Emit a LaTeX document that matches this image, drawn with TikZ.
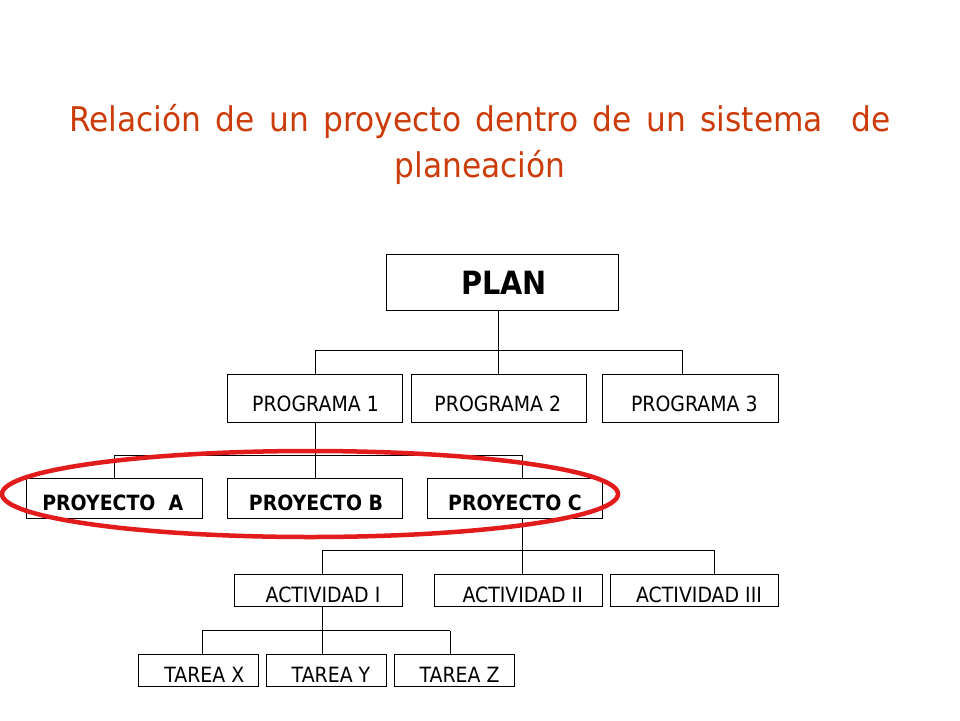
\documentclass[tikz,border=0pt]{standalone}
\usepackage{fontspec}
\setmainfont{DejaVu Sans}
\newfontfamily\titlefont[FakeStretch=0.92,WordSpace=1.46]{DejaVu Sans}
\newfontfamily\boxfont[FakeStretch=0.9]{DejaVu Sans}
\definecolor{titlecol}{RGB}{204,60,10}
\definecolor{ringred}{RGB}{226,28,28}
\begin{document}
\begin{tikzpicture}[x=1pt,y=-1pt,
  box/.style={draw=black,line width=0.8pt,inner sep=0pt,minimum height=#1},
  box/.default=32pt,
  txt/.style={inner sep=0pt,text depth=0pt,font=\boxfont\fontsize{21}{21}\selectfont},
  btxt/.style={inner sep=0pt,text depth=0pt,font=\boxfont\bfseries\fontsize{21}{21}\selectfont},
  ttl/.style={inner sep=0pt,anchor=base,text=titlecol,font=\titlefont\fontsize{34}{34}\selectfont},
  wire/.style={draw=black,line width=0.8pt}]
\useasboundingbox (0,0) rectangle (960,720);
\fill[white] (0,0) rectangle (960,720);
% title
\node[ttl] (t1) at (480,131) {Relación de un proyecto dentro de un sistema\ \ de};
\node[ttl] (t2) at (480,177) {planeación};
% boxes
\node[box=56pt,minimum width=232pt] (plan) at (502,282.3) {};
\node[box=48pt,minimum width=175pt] (p1) at (314.5,398) {};
\node[box=48pt,minimum width=175.7pt] (p2) at (498.8,398) {};
\node[box=48pt,minimum width=176pt] (p3) at (690.3,398) {};
\node[box=40pt,minimum width=175.3pt] (pa) at (114.3,498) {};
\node[box=40pt,minimum width=175pt] (pb) at (314.5,498) {};
\node[box=40pt,minimum width=175pt] (pc) at (514.5,498) {};
\node[box=32pt,minimum width=168.4pt] (a1) at (318.5,590.3) {};
\node[box=32pt,minimum width=168pt] (a2) at (518.3,590.3) {};
\node[box=32pt,minimum width=168pt] (a3) at (694.3,590.3) {};
\node[box=32pt,minimum width=120pt] (tx) at (198.3,670.4) {};
\node[box=32pt,minimum width=119.6pt] (ty) at (326.5,670.4) {};
\node[box=32pt,minimum width=119.6pt] (tz) at (454.5,670.4) {};
% texts
\node[btxt,font=\boxfont\bfseries\fontsize{32}{32}\selectfont] (plant) at ([xshift=2pt,yshift=-1pt]plan.center) {PLAN};
\node[txt] (p1t) at ([xshift=1pt,yshift=-5.8pt]p1.center) {PROGRAMA 1};
\node[txt] (p2t) at ([xshift=-1pt,yshift=-5.8pt]p2.center) {PROGRAMA 2};
\node[txt] (p3t) at ([xshift=4pt,yshift=-5.8pt]p3.center) {PROGRAMA 3};
\node[btxt] (pat) at ([xshift=-1.5pt,yshift=-5pt]pa.center) {PROYECTO\ \ A};
\node[btxt] (pbt) at ([xshift=1.5pt,yshift=-5pt]pb.center) {PROYECTO B};
\node[btxt] (pct) at ([xshift=0.5pt,yshift=-5pt]pc.center) {PROYECTO C};
\node[txt] (a1t) at ([xshift=4.5pt,yshift=-4.5pt]a1.center) {ACTIVIDAD I};
\node[txt] (a2t) at ([xshift=4.4pt,yshift=-4.5pt]a2.center) {ACTIVIDAD II};
\node[txt] (a3t) at ([xshift=4.7pt,yshift=-4.5pt]a3.center) {ACTIVIDAD III};
\node[txt] (txt) at ([xshift=6pt,yshift=-4.5pt]tx.center) {TAREA X};
\node[txt] (tyt) at ([xshift=4.5pt,yshift=-4.5pt]ty.center) {TAREA Y};
\node[txt] (tzt) at ([xshift=5pt,yshift=-4.5pt]tz.center) {TAREA Z};
% junction coordinates
\coordinate (j0) at (498,350);
\coordinate (j0l) at (315,350);
\coordinate (j0r) at (682.7,350);
\coordinate (j1) at (315,455);
\coordinate (j1l) at (114.7,455);
\coordinate (j1r) at (522.3,455);
\coordinate (j2) at (522.3,550.3);
\coordinate (j2l) at (322.7,550.3);
\coordinate (j2r) at (714.3,550.3);
\coordinate (j3) at (322.7,630.5);
\coordinate (j3l) at (202.3,630.5);
\coordinate (j3r) at (450.3,630.5);
% connectors
\draw[wire] (j0 |- plan.south) -- (j0);
\draw[wire] (j0l) -- (j0r);
\draw[wire] (j0l) -- (j0l |- p1.north);
\draw[wire] (j0) -- (j0 |- p2.north);
\draw[wire] (j0r) -- (j0r |- p3.north);
\draw[wire] (j1 |- p1.south) -- (j1);
\draw[wire] (j1l) -- (j1r);
\draw[wire] (j1l) -- (j1l |- pa.north);
\draw[wire] (j1) -- (j1 |- pb.north);
\draw[wire] (j1r) -- (j1r |- pc.north);
\draw[wire] (j2 |- pc.south) -- (j2);
\draw[wire] (j2l) -- (j2r);
\draw[wire] (j2l) -- (j2l |- a1.north);
\draw[wire] (j2) -- (j2 |- a2.north);
\draw[wire] (j2r) -- (j2r |- a3.north);
\draw[wire] (j3 |- a1.south) -- (j3);
\draw[wire] (j3l) -- (j3r);
\draw[wire] (j3l) -- (j3l |- tx.north);
\draw[wire] (j3) -- (j3 |- ty.north);
\draw[wire] (j3r) -- (j3r |- tz.north);
% red ring
\draw[ringred,line width=4.5pt] (310,494) ellipse [x radius=308, y radius=43];
\end{tikzpicture}
\end{document}
